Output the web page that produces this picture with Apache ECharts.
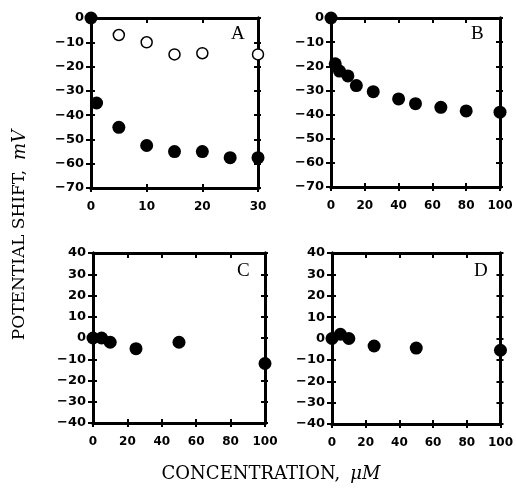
<!DOCTYPE html>
<html><head><meta charset="utf-8">
<script src="https://cdn.jsdelivr.net/npm/echarts@6/dist/echarts.min.js"></script>
<style>html,body{margin:0;padding:0;background:#fff}#c{width:516px;height:494px}</style>
</head><body><div id="c"></div>
<script>
// Panel A
const aFilledX = [0, 1, 5, 10, 15, 20, 25, 30];
const aFilledY = [0, -35, -45, -52.5, -55, -55, -57.5, -57.5];
const aOpenX = [5, 10, 15, 20, 30];
const aOpenY = [-7, -10, -15, -14.5, -15];
// Panel B
const bX = [0, 2.5, 5, 10, 15, 25, 40, 50, 65, 80, 100];
const bY = [0, -19, -22, -24, -28, -30.5, -33.5, -35.5, -37, -38.5, -39];
// Panel C
const cX = [0, 5, 10, 25, 50, 100];
const cY = [0, 0, -2, -5, -2, -12];
// Panel D
const dX = [0, 5, 10, 25, 50, 100];
const dY = [0, 2, 0, -3.5, -4.5, -5.5];
const panelLabels = ['A', 'B', 'C', 'D'];
const yTitle = 'POTENTIAL SHIFT,';
const yUnit = 'mV';
const xTitle = 'CONCENTRATION,';
const xUnit = 'μM';

const zip = (xs, ys) => xs.map((x, i) => [x, ys[i]]);
const grids = [
  {left: 91, top: 18, width: 167, height: 170},
  {left: 331, top: 18, width: 169, height: 169},
  {left: 93, top: 253, width: 172, height: 170},
  {left: 332, top: 253, width: 171, height: 171}
];
const xr = [[0, 30, 10], [0, 100, 20], [0, 100, 20], [0, 100, 20]];
const yr = [[-70, 0, 10], [-70, 0, 10], [-40, 40, 10], [-40, 40, 10]];
const lineStyle = {color: '#000', width: 3};
const tickStyle = {color: '#000', width: 2};
const fmt = v => String(v).replace('-', '\u2212');
const labX = {color: '#000', fontFamily: 'DejaVu Sans, Arial, sans-serif', fontWeight: 'bold', fontSize: 12, formatter: fmt, margin: 13};
const labY = {color: '#000', fontFamily: 'DejaVu Sans, Arial, sans-serif', fontWeight: 'bold', fontSize: 13, formatter: fmt, margin: 7};
const xAxis = [], yAxis = [];
grids.forEach((g, i) => {
  const base = {type: 'value', gridIndex: i, min: xr[i][0], max: xr[i][1], interval: xr[i][2], splitLine: {show: false},
    axisLine: {show: true, onZero: false, lineStyle}};
  xAxis.push(Object.assign({}, base, {position: 'bottom', axisTick: {show: true, inside: false, length: 4, lineStyle: tickStyle},
    axisLabel: labX}));
  xAxis.push(Object.assign({}, base, {position: 'bottom', axisTick: {show: true, inside: true, length: 4, lineStyle: tickStyle},
    axisLabel: {show: false}}));
  xAxis.push(Object.assign({}, base, {position: 'top', axisTick: {show: true, inside: true, length: 5, lineStyle: tickStyle},
    axisLabel: {show: false}}));
  const ybase = {type: 'value', gridIndex: i, min: yr[i][0], max: yr[i][1], interval: yr[i][2], splitLine: {show: false},
    axisLine: {show: true, onZero: false, lineStyle}};
  yAxis.push(Object.assign({}, ybase, {position: 'left', axisTick: {show: true, inside: false, length: 5, lineStyle: tickStyle},
    axisLabel: labY}));
  yAxis.push(Object.assign({}, ybase, {position: 'left', axisTick: {show: true, inside: true, length: 4, lineStyle: tickStyle},
    axisLabel: {show: false}}));
  yAxis.push(Object.assign({}, ybase, {position: 'right', axisTick: {show: true, inside: true, length: 4, lineStyle: tickStyle},
    axisLabel: {show: false}}));
  yAxis.push(Object.assign({}, ybase, {position: 'right', axisTick: {show: true, inside: false, length: 3, lineStyle: tickStyle},
    axisLabel: {show: false}}));
});
const filled = (i, data) => ({type: 'scatter', xAxisIndex: i * 3, yAxisIndex: i * 4, data, symbol: 'circle', symbolSize: 13,
  itemStyle: {color: '#000', opacity: 1}, clip: false, z: 5});
const series = [
  filled(0, zip(aFilledX, aFilledY)),
  {type: 'scatter', xAxisIndex: 0, yAxisIndex: 0, data: zip(aOpenX, aOpenY), symbol: 'circle', symbolSize: 11,
    itemStyle: {color: '#fff', borderColor: '#000', borderWidth: 1.5, opacity: 1}, clip: false, z: 5},
  filled(1, zip(bX, bY)),
  filled(2, zip(cX, cY)),
  filled(3, zip(dX, dY))
];
const serif = 'DejaVu Serif, Liberation Serif, serif';
const labelPos = [[231, 25], [471, 25], [237, 262], [474, 262]];
const graphic = panelLabels.map((t, i) => ({type: 'text', left: labelPos[i][0], top: labelPos[i][1],
  style: {text: t, font: '19px Liberation Serif, serif', fill: '#000'}}));
graphic.push({type: 'text', x: 20, y: 235, rotation: Math.PI / 2, originX: 0, originY: 0,
  style: {text: '{a|' + yTitle + '}   {b|' + yUnit + '}', align: 'center', verticalAlign: 'middle',
    rich: {a: {font: '17px ' + serif, fill: '#000'}, b: {font: 'italic 18px ' + serif, fill: '#000'}}}});
graphic.push({type: 'text', x: 271, y: 474,
  style: {text: '{a|' + xTitle + '}   {b|' + xUnit + '}', align: 'center', verticalAlign: 'middle',
    rich: {a: {font: '18px ' + serif, fill: '#000'}, b: {font: 'italic 18px ' + serif, fill: '#000'}}}});
const chart = echarts.init(document.getElementById('c'), null, {renderer: 'canvas'});
chart.setOption({animation: false, backgroundColor: '#fff', grid: grids, xAxis, yAxis, series, graphic});
</script></body></html>
